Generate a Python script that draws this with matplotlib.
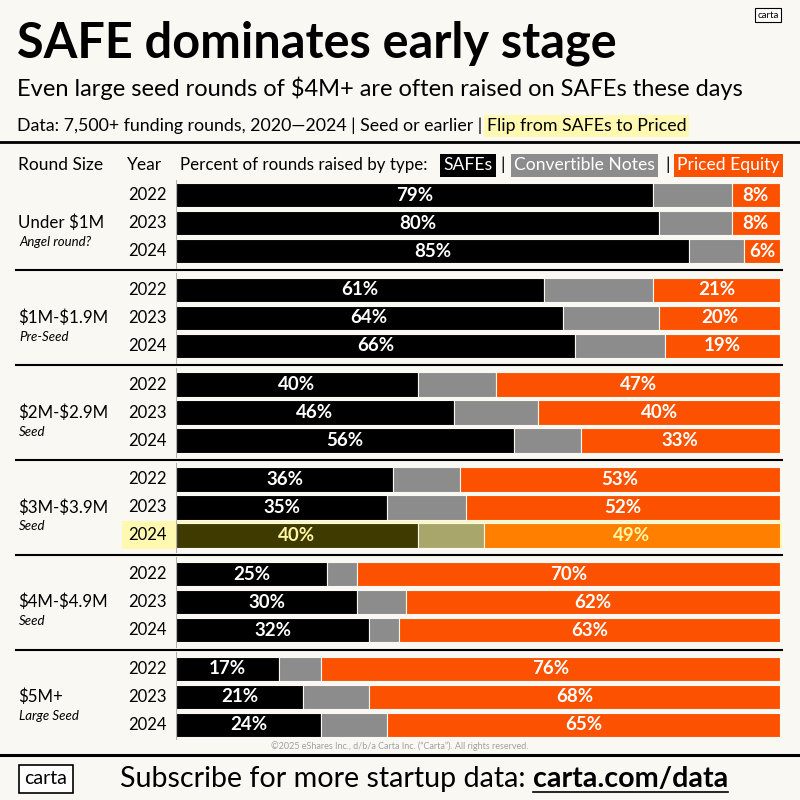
import numpy as np
import matplotlib.pyplot as plt
from matplotlib.patches import Rectangle
from matplotlib.transforms import blended_transform_factory

plt.rcParams['font.family'] = ['Lato', 'DejaVu Sans']
plt.rcParams['text.parse_math'] = False

# data
groups = ["Under $1M", "$1M-$1.9M", "$2M-$2.9M", "$3M-$3.9M", "$4M-$4.9M", "$5M+"]
group_notes = ["Angel round?", "Pre-Seed", "Seed", "Seed", "Seed", "Large Seed"]
years = ["2022", "2023", "2024"]
safes = [[79, 80, 85], [61, 64, 66], [40, 46, 56], [36, 35, 40], [25, 30, 32], [17, 21, 24]]
notes = [[13, 12, 9], [18, 16, 15], [13, 14, 11], [11, 13, 11], [5, 8, 5], [7, 11, 11]]
priced = [[8, 8, 6], [21, 20, 19], [47, 40, 33], [53, 52, 49], [70, 62, 63], [76, 68, 65]]
highlight = (3, 2)  # $3M-$3.9M, 2024

BG = '#faf8f3'
BLACK = '#000000'
GRAY = '#8c8c8c'
ORANGE = '#fc5200'
HL_BG = '#fff8b0'
HL_COLS = ['#3f3b00', '#a9a66b', '#ff7f00']

fig = plt.figure(figsize=(8, 8), dpi=100, facecolor=BG)

# full-figure layout axes in pixel units
bg = fig.add_axes([0, 0, 1, 1])
bg.set_xlim(0, 800)
bg.set_ylim(800, 0)
bg.axis('off')

# bar axes: x 176..780 px, y 180..740 px
ROW = 28.0
GSTEP = 94.8 / ROW
top_px, bot_px, y0_px = 180, 740, 195
ax = fig.add_axes([176 / 800, 1 - bot_px / 800, 604 / 800, (bot_px - top_px) / 800])
ax.set_facecolor('none')
ax.set_xlim(0, 100)
ax.set_ylim((bot_px - y0_px) / ROW, -(y0_px - top_px) / ROW)
ax.axis('off')

tr = blended_transform_factory(bg.transData, ax.transData)

# header text
bg.text(17, 57, "SAFE dominates early stage", fontsize=35, fontweight='bold', va='baseline')
bg.text(17, 88, "Even large seed rounds of $4M+ are often raised on SAFEs these days",
        fontsize=17.0, va='center')
t1 = bg.text(17, 126, "Data: 7,500+ funding rounds, 2020\u20142024 | Seed or earlier | ",
             fontsize=12.8, va='center')
fig.canvas.draw()
r = fig.canvas.get_renderer()
ext = t1.get_window_extent(r)
bg.text(ext.x1, 126, "Flip from SAFEs to Priced", fontsize=12.8, va='center',
        bbox=dict(boxstyle='square,pad=0.15', fc=HL_BG, ec='none'))

bg.text(768, 15, "carta", fontsize=7, ha='center', va='center',
        bbox=dict(boxstyle='square,pad=0.25', fc='white', ec='black', lw=0.8))

bg.plot([0, 800], [142, 142], color='black', lw=2)

# column headers and legend
hy = 165
bg.text(18, hy, "Round Size", fontsize=12.5, va='center')
bg.text(127, hy, "Year", fontsize=12.5, va='center')
bg.text(180, hy, "Percent of rounds raised by type:", fontsize=12.2, va='center')
bg.text(443, hy, "SAFEs", fontsize=12.6, va='center', color='white',
        bbox=dict(boxstyle='square,pad=0.2', fc=BLACK, ec='none'))
bg.text(500, hy, "|", fontsize=12.5, va='center')
bg.text(514, hy, "Convertible Notes", fontsize=12.6, va='center', color='white',
        bbox=dict(boxstyle='square,pad=0.2', fc=GRAY, ec='none'))
bg.text(665, hy, "|", fontsize=12.5, va='center')
bg.text(677, hy, "Priced Equity", fontsize=12.6, va='center', color='white',
        bbox=dict(boxstyle='square,pad=0.2', fc=ORANGE, ec='none'))

# bars
for g in range(len(groups)):
    base = g * GSTEP
    for i, yr in enumerate(years):
        y = base + i
        hl = (g, i) == highlight
        cols = HL_COLS if hl else [BLACK, GRAY, ORANGE]
        txtc = '#fff6a0' if hl else 'white'
        if hl:
            bg.add_patch(Rectangle((122, y - 0.5), 660, 1.0, transform=tr, fc=HL_BG, ec='none', zorder=0))
        s, n, p = safes[g][i], notes[g][i], priced[g][i]
        ax.barh(y, s, left=0, height=0.87, color=cols[0], edgecolor=BG, lw=0.8)
        ax.barh(y, n, left=s, height=0.87, color=cols[1], edgecolor=BG, lw=0.8)
        ax.barh(y, p, left=s + n, height=0.87, color=cols[2], edgecolor=BG, lw=0.8)
        ax.text(s / 2, y, f"{s}%", ha='center', va='center', color=txtc, fontsize=13.5, fontweight='bold')
        ax.text(s + n + p / 2, y, f"{p}%", ha='center', va='center', color=txtc, fontsize=13.5, fontweight='bold')
        bg.text(128, y, yr, transform=tr, fontsize=12, va='center')
    # axis line at left of bars
    ax.plot([0, 0], [base - 0.6, base + 2.6], color='#b0b0b0', lw=0.8)
    bg.text(18, base + 1.0, groups[g], transform=tr, fontsize=12.2, va='center')
    bg.text(19, base + 1.68, group_notes[g], transform=tr, fontsize=9.5, va='center', style='italic')
    if g < len(groups) - 1:
        sep = base + 2 + (GSTEP - 2) / 2
        bg.plot([16, 782], [sep, sep], transform=tr, color='black', lw=1.5)

# footer
bg.text(400, 746, "\u00a92025 eShares Inc., d/b/a Carta Inc. (\u201cCarta\u201d). All rights reserved.",
        fontsize=6.5, ha='center', va='center', color='#a0a0a0')
bg.plot([0, 800], [755, 755], color='black', lw=2.2)
bg.text(46, 779, "carta", fontsize=14, ha='center', va='center',
        bbox=dict(boxstyle='square,pad=0.3', fc='white', ec='black', lw=1.2))
t2 = bg.text(120, 779, "Subscribe for more startup data: ", fontsize=20.6, va='center')
fig.canvas.draw()
ext2 = t2.get_window_extent(r)
t3 = bg.text(ext2.x1, 779, "carta.com/data", fontsize=20.6, va='center', fontweight='bold')
fig.canvas.draw()
ext3 = t3.get_window_extent(r)
bg.plot([ext3.x0, ext3.x1], [792, 792], color='black', lw=1.2)

fig.savefig('out.png', dpi=100, facecolor=BG)
